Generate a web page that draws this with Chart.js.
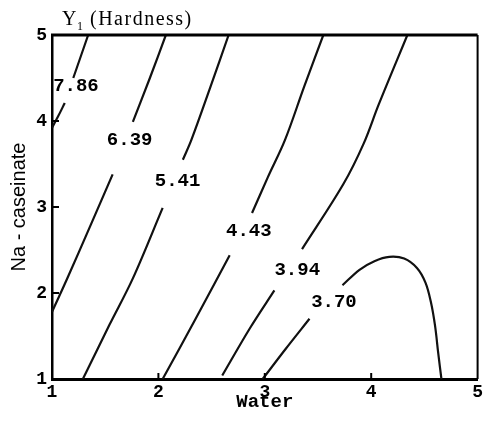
<!DOCTYPE html>
<html>
<head>
<meta charset="utf-8">
<script src="https://cdn.jsdelivr.net/npm/chart.js"></script>
<style>
  body { margin: 0; background: #fff; }
</style>
</head>
<body>
<canvas id="myChart" width="486" height="421"></canvas>
<script>
const levels = ['7.86', '6.39', '5.41', '4.43', '3.94', '3.70'];
// where each level's number is written, as [water, na-caseinate]
const labelSpots = [[1.225, 4.40], [1.73, 3.78], [2.18, 3.30], [2.85, 2.72], [3.305, 2.27], [3.65, 1.89]];
const tickValues = [1, 2, 3, 4, 5];

// each contour is split where its number interrupts the line
const line786 = [
  [[1.34, 5.00], [1.27, 4.75], [1.20, 4.50]],
  [[1.12, 4.21], [1.06, 4.06], [1.00, 3.92]]
];
const line639 = [
  [[2.07, 5.00], [1.92, 4.50], [1.76, 3.99]],
  [[1.57, 3.38], [1.36, 2.78], [1.14, 2.16], [1.00, 1.78]]
];
const line541 = [
  [[2.66, 5.00], [2.49, 4.40], [2.31, 3.78], [2.23, 3.55]],
  [[2.04, 2.99], [1.76, 2.17], [1.54, 1.63], [1.29, 1.00]]
];
const line443 = [
  [[3.55, 5.00], [3.37, 4.40], [3.19, 3.78], [3.03, 3.35], [2.88, 2.93]],
  [[2.67, 2.44], [2.35, 1.70], [2.04, 1.00]]
];
const line394 = [
  [[4.34, 5.00], [4.07, 4.19], [3.93, 3.74], [3.74, 3.27], [3.35, 2.51]],
  [[3.09, 2.03], [2.86, 1.59], [2.60, 1.04]]
];
const line370 = [
  [[2.98, 1.00], [3.19, 1.34], [3.42, 1.70]],
  [[3.73, 2.09], [3.89, 2.27], [4.03, 2.37], [4.17, 2.42], [4.31, 2.40], [4.43, 2.29],
   [4.51, 2.12], [4.56, 1.90], [4.60, 1.62], [4.63, 1.30], [4.66, 1.00]]
];
const contourLines = [line786, line639, line541, line443, line394, line370];

const datasets = [];
contourLines.forEach((segments) => {
  segments.forEach((seg) => {
    datasets.push({
      data: seg.map(([x, y]) => ({ x, y })),
      showLine: true,
      borderColor: '#111',
      borderWidth: 2.2,
      pointRadius: 0,
      tension: 0.35,
      fill: false
    });
  });
});

const extras = {
  id: 'extras',
  afterDatasetsDraw(chart) {
    const { ctx, chartArea: a, scales: { x, y } } = chart;
    ctx.save();
    ctx.strokeStyle = '#000';
    ctx.lineWidth = 3;
    ctx.beginPath();
    ctx.moveTo(a.left - 1, a.top);
    ctx.lineTo(a.right, a.top);
    ctx.stroke();
    ctx.lineWidth = 2;
    ctx.beginPath();
    ctx.moveTo(a.right, a.top);
    ctx.lineTo(a.right, a.bottom);
    ctx.stroke();

    // short ticks pointing into the plot
    ctx.lineWidth = 2;
    tickValues.slice(1, -1).forEach((v) => {
      const px = x.getPixelForValue(v);
      ctx.beginPath();
      ctx.moveTo(px, a.bottom);
      ctx.lineTo(px, a.bottom - 6);
      ctx.stroke();
      const py = y.getPixelForValue(v);
      ctx.beginPath();
      ctx.moveTo(a.left, py);
      ctx.lineTo(a.left + 7, py);
      ctx.stroke();
    });

    ctx.fillStyle = '#000';
    ctx.font = 'bold 19px "Liberation Mono"';
    ctx.textAlign = 'center';
    ctx.textBaseline = 'middle';
    levels.forEach((t, i) => {
      ctx.fillText(t, x.getPixelForValue(labelSpots[i][0]), y.getPixelForValue(labelSpots[i][1]));
    });

    // heading: Y1 (Hardness)
    ctx.textAlign = 'left';
    ctx.textBaseline = 'alphabetic';
    ctx.font = '20px "Liberation Serif"';
    ctx.fillText('Y', 62, 25);
    ctx.font = '12px "Liberation Serif"';
    ctx.fillText('1', 77, 30);
    ctx.font = '20px "Liberation Serif"';
    ctx.letterSpacing = '1.5px';
    ctx.fillText('(Hardness)', 90, 25);
    ctx.restore();
  }
};

const ctx = document.getElementById('myChart').getContext('2d');
const chart = new Chart(ctx, {
  type: 'scatter',
  data: { datasets },
  plugins: [extras],
  options: {
    responsive: false,
    animation: false,
    devicePixelRatio: 1,
    layout: { padding: { top: 35, right: 8, left: 0, bottom: 0 } },
    plugins: {
      legend: { display: false },
      tooltip: { enabled: false }
    },
    scales: {
      x: {
        type: 'linear',
        min: 1,
        max: 5,
        afterBuildTicks: (s) => { s.ticks = tickValues.map((v) => ({ value: v })); },
        afterFit: (s) => { s.height = 42; },
        grid: { display: false, drawTicks: false },
        border: { display: true, color: '#000', width: 3 },
        ticks: {
          color: '#000',
          padding: 3,
          maxRotation: 0,
          font: { family: 'Liberation Mono', weight: 'bold', size: 18 }
        },
        title: {
          display: true,
          text: 'Water',
          color: '#000',
          padding: { top: 0, bottom: 7 },
          font: { family: 'Liberation Mono', weight: 'bold', size: 19 }
        }
      },
      y: {
        type: 'linear',
        min: 1,
        max: 5,
        afterBuildTicks: (s) => { s.ticks = tickValues.map((v) => ({ value: v })); },
        afterFit: (s) => { s.width = 52; },
        grid: { display: false, drawTicks: false },
        border: { display: true, color: '#000', width: 2.5 },
        ticks: {
          color: '#000',
          padding: 5,
          font: { family: 'Liberation Mono', weight: 'bold', size: 18 }
        },
        title: {
          display: true,
          text: 'Na - caseinate',
          color: '#000',
          padding: { top: 7, bottom: 0 },
          font: { family: 'Liberation Sans', size: 20 }
        }
      }
    }
  }
});
</script>
</body>
</html>
